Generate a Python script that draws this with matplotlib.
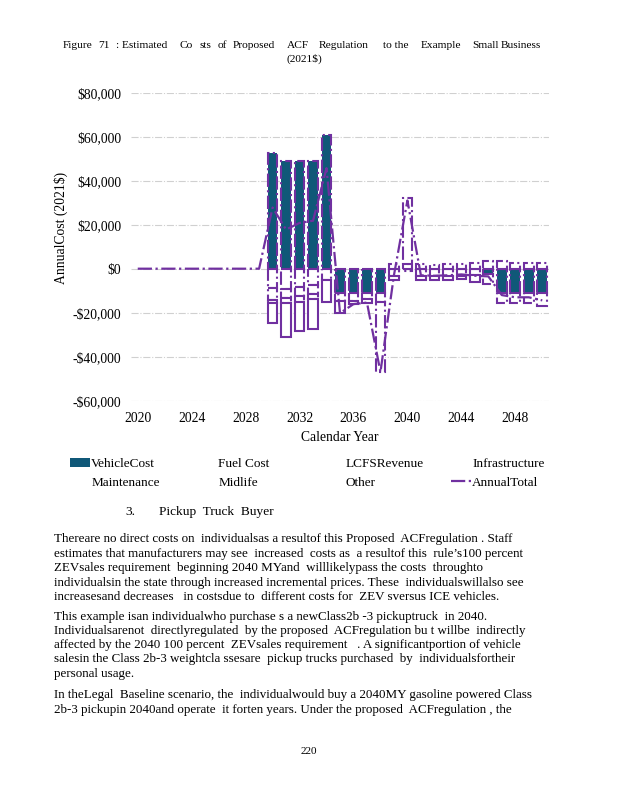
import numpy as np
import matplotlib
matplotlib.use("Agg")
import matplotlib.pyplot as plt
from matplotlib.patches import Patch
from matplotlib.lines import Line2D
from matplotlib.ticker import FuncFormatter

plt.rcParams['font.family'] = ['Liberation Serif', 'DejaVu Serif']

# data (2021$)
years = list(range(2020, 2051))
z = [0] * 10  # 2020-2029 nothing happens

vehicle_cost = z + [52400, 49000, 49000, 49000, 60800, -10900, -10900, -11200, -11200, 0,
                    0, 0, 0, 0, 0, 0, -2500, -10900, -10900, -10900, -10900]
fuel_cost = z + [-9000, -9400, -8500, -7500, -5200, -3600, -3600, -2800, -4000, -3500,
                 -1000, -3500, -3400, -3500, -3300, -3000, -4500, -4600, -4600, -4600, -6000]
maintenance = z + [-5300, -3900, -3800, -4100, 0, 0, 0, 0, 0, 0,
                   0, 0, 0, 0, 0, 0, 0, 0, 0, 0, 0]
other = z + [-1500, -2300, -2700, -2300, 0, 0, 0, 0, -31800, 0,
             0, 0, 0, 0, 0, 0, 0, 0, 0, 0, 0]
lcfs_revenue = z + [-8800, -15600, -13200, -13300, -9900, -5700, -1600, -1400, 0, -1500,
                    0, -1500, -1600, -1500, -1500, -3000, 0, 0, 0, 0, 0]
infrastructure = z + [0, 0, 0, 0, 0, 0, 0, 0, 0, 2000,
                      2000, 2000, 1800, 2000, 2200, 2800, 3500, 3500, 2500, 2500, 2500]
midlife = z + [0, 0, 0, 0, 0, 0, 0, 0, 0, 0,
               30000, 0, 0, 0, 0, 0, 0, 0, 0, 0, 0]

teal = '#105878'
purple = '#7030A0'

fig = plt.figure(figsize=(6.18, 8.0), dpi=100)
ax = fig.add_axes([131/618, 1 - 400.7/800, 418/618, 308/800])

x = np.arange(len(years))
# (values, face, linestyle) in stacking order
series = [
    (vehicle_cost, teal, '-.'),
    (fuel_cost, 'white', '-.'),
    (maintenance, 'white', '-.'),
    (other, 'white', '-.'),
    (lcfs_revenue, 'white', '-'),
    (infrastructure, 'white', '-.'),
    (midlife, 'white', '-.'),
]
pos = np.zeros(len(years))
neg = np.zeros(len(years))
for vals, fc, ls in series:
    v = np.array(vals, dtype=float)
    bottom = np.where(v >= 0, pos, neg)
    mask = v != 0
    ax.bar(x[mask], v[mask], bottom=bottom[mask], width=0.72, color=fc,
           edgecolor=purple, linewidth=1.5, linestyle=ls, zorder=2)
    pos = pos + np.clip(v, 0, None)
    neg = neg + np.clip(v, None, 0)

annual_total = pos + neg
ax.plot(x, annual_total, color=purple, linestyle='-.', linewidth=1.6, zorder=3)

ax.set_ylim(-60000, 80000)
ax.set_yticks(np.arange(-60000, 80001, 20000))
ax.set_xlim(-0.5, len(years) - 0.5)
ax.set_xticks(x[::4])
ax.set_xticklabels([str(y) for y in years[::4]])
ax.yaxis.set_major_formatter(FuncFormatter(
    lambda v, p: ('-$' if v < 0 else '$') + f'{abs(int(v)):,}'))
ax.grid(axis='y', color='#D0D0D0', linestyle='-.', linewidth=0.8, zorder=0)
ax.set_axisbelow(True)
for s in ax.spines.values():
    s.set_visible(False)
ax.tick_params(length=0, labelsize=9.8, pad=7)
ax.tick_params(axis='x', pad=8)
ax.set_xlabel('Calendar Year', fontsize=9.8)
ax.xaxis.set_label_coords(0.5, -0.097)
ax.set_ylabel('AnnualCost (2021$)', fontsize=9.8)
ax.yaxis.set_label_coords(-0.15, 0.56)

# legend, four columns of two rows
blank = Patch(facecolor='none', edgecolor='none')
cols = [
    (70, [Patch(facecolor=teal, edgecolor='none'), blank], ['VehicleCost', 'Maintenance']),
    (197, [blank, blank], ['Fuel Cost', 'Midlife']),
    (324, [blank, blank], ['LCFSRevenue', 'Other']),
    (451, [blank, Line2D([], [], color=purple, linestyle='-.', linewidth=1.6)],
     ['Infrastructure', 'AnnualTotal']),
]
for px, hs, labs in cols:
    fig.legend(hs, labs, loc='upper left', bbox_to_anchor=(px/618, 1 - 458/800),
               frameon=False, fontsize=9.5, handlelength=1.5, handletextpad=0.1,
               borderpad=0, borderaxespad=0, labelspacing=0.5)

# caption above the chart
title_words = [('Figure', 62.7), ('71', 98), (': Estimated', 115.7), ('Co', 180),
               ('sts', 199), ('of', 218), ('Proposed', 232.7), ('ACF', 286.7),
               ('Regulation', 319), ('to the', 382.7), ('Example', 421),
               ('Small', 472.7), ('Business', 500.7)]
for w, px in title_words:
    fig.text(px/618, 1 - 45/800, w, fontsize=8.2, ha='left', va='center')
fig.text(286.7/618, 1 - 59.3/800, '(2021$)', fontsize=8.2, ha='left', va='center')

# body text below the chart
fig.text(125/618, 1 - 512/800, '3.', fontsize=9.6, va='center')
fig.text(159/618, 1 - 512/800, 'Pickup  Truck  Buyer', fontsize=9.6, va='center')
body = [
    (539, 'Thereare no direct costs on  individualsas a resultof this Proposed  ACFregulation . Staff'),
    (554, 'estimates that manufacturers may see  increased  costs as  a resultof this  rule\u2019s100 percent'),
    (568, 'ZEVsales requirement  beginning 2040 MYand  willlikelypass the costs  throughto'),
    (583, 'individualsin the state through increased incremental prices. These  individualswillalso see'),
    (597, 'increasesand decreases   in costsdue to  different costs for  ZEV sversus ICE vehicles.'),
    (617, 'This example isan individualwho purchase s a newClass2b -3 pickuptruck  in 2040.'),
    (631, 'Individualsarenot  directlyregulated  by the proposed  ACFregulation bu t willbe  indirectly'),
    (645, 'affected by the 2040 100 percent  ZEVsales requirement   . A significantportion of vehicle'),
    (659, 'salesin the Class 2b-3 weightcla ssesare  pickup trucks purchased  by  individualsfortheir'),
    (674, 'personal usage.'),
    (695, 'In theLegal  Baseline scenario, the  individualwould buy a 2040MY gasoline powered Class'),
    (710, '2b-3 pickupin 2040and operate  it forten years. Under the proposed  ACFregulation , the'),
]
for py, line in body:
    fig.text(54/618, 1 - py/800, line, fontsize=9.4, ha='left', va='center')
fig.text(309/618, 1 - 752/800, '220', fontsize=8, ha='center', va='center')

fig.savefig('out.png', dpi=100)
